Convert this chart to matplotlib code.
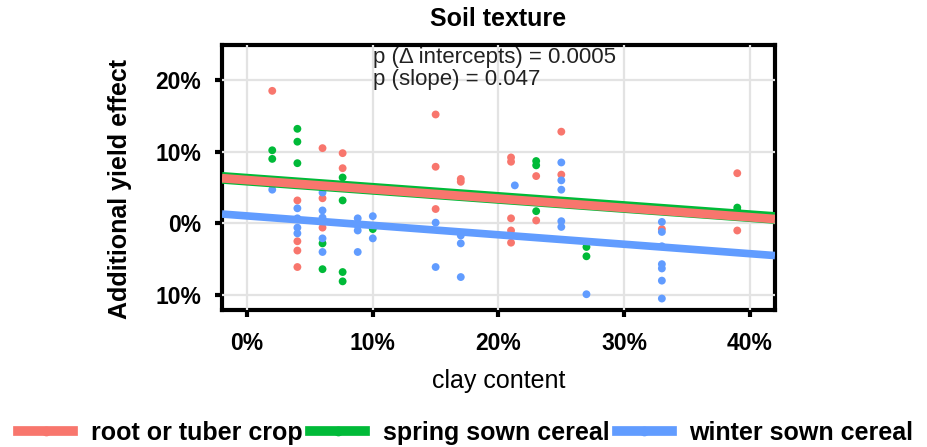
import numpy as np
import matplotlib
matplotlib.use("Agg")
import matplotlib.pyplot as plt
from matplotlib.lines import Line2D

plt.rcParams["font.family"] = ["Liberation Sans", "DejaVu Sans"]

# clay content (%) and additional yield effect (%) per crop group
root_x = [2, 4, 4, 4, 4, 6, 6, 6, 7.6, 7.6, 15, 15, 15, 17, 17,
          21, 21, 21, 21, 21, 23, 23, 25, 25, 33, 39, 39]
root_y = [18.5, 3.2, -2.5, -3.8, -6.1, 10.5, 3.5, -0.6, 9.8, 7.7, 15.2, 7.9, 2.0, 6.2, 5.8,
          9.2, 8.6, 0.7, -1.0, -2.7, 6.6, 0.4, 12.8, 6.8, -0.8, 7.0, -1.0]

spring_x = [2, 2, 4, 4, 4, 6, 6, 7.6, 7.6, 7.6, 7.6, 10, 23, 23, 23, 27, 27, 39, 39]
spring_y = [10.2, 9.0, 13.2, 11.4, 8.4, -2.8, -6.4, 6.4, 3.2, -6.8, -8.1, -0.8,
            8.7, 8.1, 1.7, -3.3, -4.6, 2.2, 1.8]

winter_x = [2, 4, 4, 4, 4, 6, 6, 6, 6, 6, 8.8, 8.8, 8.8, 8.8, 10, 10, 15, 15,
            17, 17, 17, 21.3, 25, 25, 25, 25, 25, 27, 33, 33, 33, 33, 33, 33, 33]
winter_y = [4.7, 2.1, 0.7, -0.6, -1.4, 4.3, 1.8, 0.8, -2.1, -4.0, 0.7, -0.3, -1.0, -4.0,
            1.0, -2.1, 0.1, -6.1, -1.7, -2.8, -7.5, 5.3, 8.5, 6.0, 4.7, 0.3, -0.5, -9.9,
            0.2, -1.2, -3.2, -5.7, -6.3, -8.0, -10.5]

# fitted lines: values at the left and right ends of the x range
fit_x = [-2, 42]
root_fit = [6.3, 0.6]
spring_fit = [6.35, 0.75]
winter_fit = [1.3, -4.5]

groups = ["root or tuber crop", "spring sown cereal", "winter sown cereal"]
colors = ["#F8766D", "#00BA38", "#619CFF"]

x_ticks = [0, 10, 20, 30, 40]
x_labels = ["0%", "10%", "20%", "30%", "40%"]
y_ticks = [-10, 0, 10, 20]
y_labels = ["10%", "0%", "10%", "20%"]

fig = plt.figure(figsize=(9.28, 4.47), dpi=100)
ax = fig.add_axes([0.2392, 0.3065, 0.5959, 0.5928])

ax.plot(fit_x, spring_fit, color=colors[1], lw=8.5, solid_capstyle="butt", zorder=3)
ax.plot(fit_x, root_fit, color=colors[0], lw=6.3, solid_capstyle="butt", zorder=3.1)
ax.plot(fit_x, winter_fit, color=colors[2], lw=5.5, solid_capstyle="butt", zorder=3)

for xs, ys, c in [(root_x, root_y, colors[0]), (spring_x, spring_y, colors[1]),
                  (winter_x, winter_y, colors[2])]:
    ax.scatter(xs, ys, s=32, color=c, edgecolors="none", zorder=2)

ax.set_xlim(-2, 42)
ax.set_ylim(-12.1, 24.9)
ax.set_xticks(x_ticks)
ax.set_xticklabels(x_labels, fontsize=16.5, fontweight="bold")
ax.set_yticks(y_ticks)
ax.set_yticklabels(y_labels, fontsize=16.5, fontweight="bold")
ax.tick_params(length=5, width=3, color="black")
ax.tick_params(axis="x", pad=11)
ax.tick_params(axis="y", pad=10)

ax.grid(True, color="#e3e3e3", lw=1.6)
ax.set_axisbelow(True)
for sp in ax.spines.values():
    sp.set_linewidth(3)
    sp.set_zorder(0.3)

ax.set_title("Soil texture", fontsize=18, fontweight="bold", pad=14)
ax.set_ylabel("Additional yield effect", fontsize=18, fontweight="bold")
ax.yaxis.set_label_coords(-0.162, 0.457)
ax.set_xlabel("clay content", fontsize=18, labelpad=10)

ax.text(10, 23.1, "p (\u0394 intercepts) = 0.0005", fontsize=16, va="center", color="#222222")
ax.text(10, 20.1, "p (slope) = 0.047", fontsize=16, va="center", color="#222222")

handles = [Line2D([0], [0], color=c, lw=7, marker="o", markersize=6) for c in colors]
fig.legend(handles, groups, loc="center", bbox_to_anchor=(0.502, 0.032), ncol=3,
           frameon=False, prop={"weight": "bold", "size": 18}, handlelength=2.2,
           handletextpad=0.7, columnspacing=0.3, borderaxespad=0)

fig.savefig("out.png", dpi=100)
